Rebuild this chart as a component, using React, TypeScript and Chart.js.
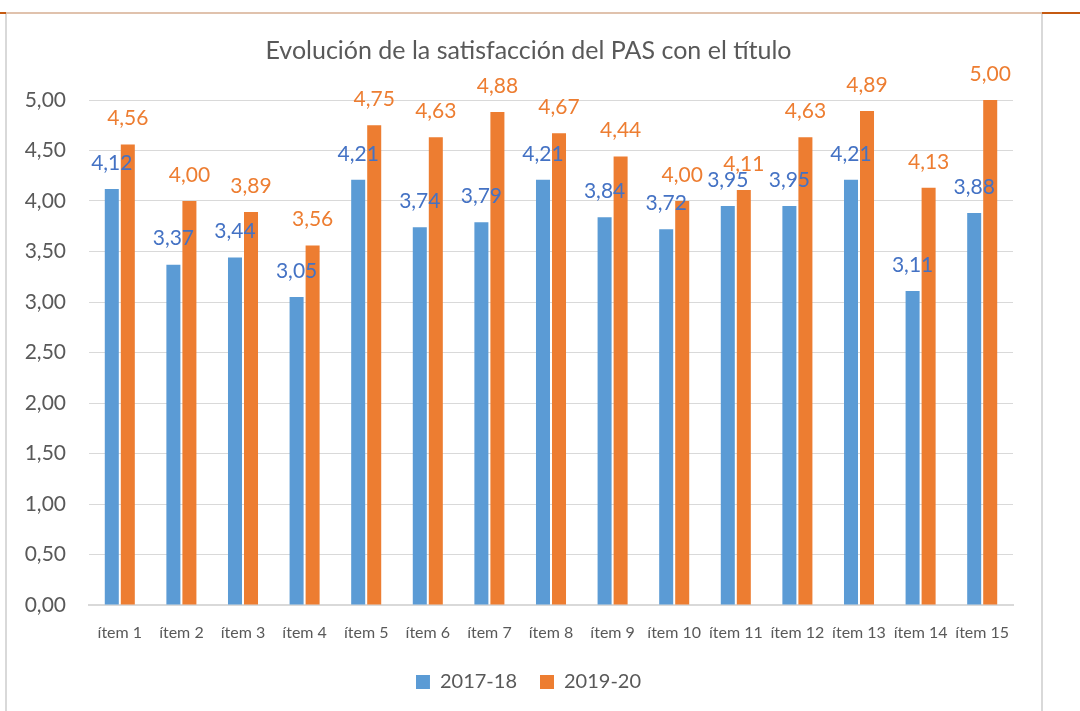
import React, { useEffect, useRef } from "react";
import { Chart, registerables } from "chart.js";

Chart.register(...registerables);

const categories = ["ítem 1", "ítem 2", "ítem 3", "ítem 4", "ítem 5", "ítem 6", "ítem 7", "ítem 8", "ítem 9", "ítem 10", "ítem 11", "ítem 12", "ítem 13", "ítem 14", "ítem 15"];
const series2017 = [4.12, 3.37, 3.44, 3.05, 4.21, 3.74, 3.79, 4.21, 3.84, 3.72, 3.95, 3.95, 4.21, 3.11, 3.88];
const series2019 = [4.56, 4.0, 3.89, 3.56, 4.75, 4.63, 4.88, 4.67, 4.44, 4.0, 4.11, 4.63, 4.89, 4.13, 5.0];
const seriesNames = ["2017-18", "2019-20"];
const titleText = "Evolución de la satisfacción del PAS con el título";

const FONT = "Lato, 'Open Sans', sans-serif";
const fmt = (v: number) => v.toFixed(2).replace(".", ",");

const framePlugin = {
  id: "frame",
  beforeDraw(chart: any) {
    const ctx = chart.ctx;
    ctx.save();
    ctx.fillStyle = "#ffffff";
    ctx.fillRect(0, 0, chart.width, chart.height);
    ctx.fillStyle = "#e0c2ad";
    ctx.fillRect(6, 12, 1036, 2);
    ctx.fillStyle = "#c55a11";
    ctx.fillRect(0, 12, 6, 2);
    ctx.fillRect(1042, 12, 38, 2);
    ctx.fillStyle = "#d9d9d9";
    ctx.fillRect(5, 14, 2, chart.height - 14);
    ctx.fillRect(1041, 14, 2, chart.height - 14);
    ctx.restore();
  },
};

const labelPlugin = {
  id: "valueLabels",
  afterDatasetsDraw(chart: any) {
    const ctx = chart.ctx;
    const colors = ["#4472c4", "#ed7d31"];
    ctx.save();
    ctx.font = `21px ${FONT}`;
    ctx.textAlign = "center";
    ctx.textBaseline = "middle";
    chart.data.datasets.forEach((ds: any, i: number) => {
      const meta = chart.getDatasetMeta(i);
      ctx.fillStyle = colors[i];
      meta.data.forEach((bar: any, j: number) => {
        ctx.fillText(fmt(ds.data[j]), bar.x, bar.y - 26);
      });
    });
    ctx.restore();
  },
};

export default function App() {
  const ref = useRef<HTMLCanvasElement>(null);
  useEffect(() => {
    const chart = new Chart(ref.current!, {
      type: "bar",
      data: {
        labels: categories,
        datasets: [
          { label: seriesNames[0], data: series2017, backgroundColor: "#5b9bd5", categoryPercentage: 0.52, barPercentage: 0.875 },
          { label: seriesNames[1], data: series2019, backgroundColor: "#ed7d31", categoryPercentage: 0.52, barPercentage: 0.875 },
        ],
      },
      plugins: [framePlugin, labelPlugin],
      options: {
        animation: false,
        responsive: false,
        layout: { padding: { left: 0, right: 23, top: 0, bottom: 9 } },
        plugins: {
          title: {
            display: true,
            text: titleText,
            color: "#595959",
            font: { family: FONT, size: 25, weight: "normal" },
            padding: { top: 36, bottom: 34 },
          },
          legend: {
            position: "bottom",
            labels: {
              color: "#595959",
              font: { family: FONT, size: 20 },
              boxWidth: 14,
              boxHeight: 14,
              padding: 23,
            },
          },
          tooltip: { enabled: false },
        },
        scales: {
          x: {
            grid: { display: false },
            border: { display: true, color: "#d9d9d9", width: 2 },
            ticks: { color: "#595959", font: { family: FONT, size: 16 }, padding: 10, maxRotation: 0, autoSkip: false },
            afterFit: (s: any) => { s.height = 44; },
          },
          y: {
            min: 0,
            max: 5,
            grid: { color: "#d9d9d9", drawTicks: false, lineWidth: 1 },
            border: { display: false },
            ticks: {
              stepSize: 0.5,
              color: "#595959",
              font: { family: FONT, size: 21 },
              padding: 23,
              callback: (v: any) => fmt(Number(v)),
            },
            afterFit: (s: any) => { s.width = 89; },
          },
          spacer: {
            type: "linear",
            position: "right",
            min: 0,
            max: 1,
            grid: { display: false },
            border: { display: false },
            ticks: { display: false },
            afterFit: (s: any) => { s.width = 44; },
          },
        },
      },
    });
    return () => chart.destroy();
  }, []);
  return (
    <div style={{ position: "absolute", left: 0, top: 0, width: 1080, height: 711 }}>
      <canvas ref={ref} width={1080} height={711} style={{ display: "block" }} />
    </div>
  );
}
